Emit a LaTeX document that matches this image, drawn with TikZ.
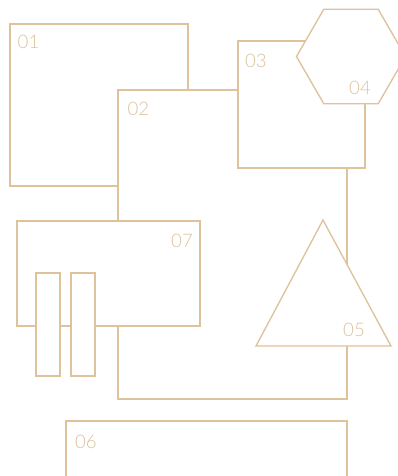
\documentclass[tikz,border=0pt]{standalone}
\usepackage{fontspec}
\newfontfamily\lblfont{Lato Light}
\usetikzlibrary{shapes.geometric}
\definecolor{tan}{HTML}{DDC29C}
\definecolor{tantext}{HTML}{DCC29E}
\begin{document}
\begin{tikzpicture}[x=0.75pt,y=-0.75pt,
  shp/.style={draw=tan,line width=1pt,fill=white,inner sep=0pt,outer sep=0pt},
  sz/.style 2 args={minimum width=#1*0.75pt,minimum height=#2*0.75pt},
  lbl/.style={text=tantext,font=\lblfont\fontsize{14pt}{15pt}\selectfont,inner sep=0pt},
  conn/.style={draw=tan,line width=1pt}]
\useasboundingbox (0,0) rectangle (398,476);
\clip (0,0) rectangle (398,476);
% boxes
\node[shp,sz={178}{162}] (n01) at (99,105) {};
\node[fill=white,inner sep=0pt,outer sep=0pt,sz={120}{131}] (n02) at (178,155.5) {};
\draw[conn] (n02.north east) -- (n02.north west) -- (n02.south west);
\node[shp,sz={127}{127}] (n03) at (301.5,104.5) {};
\node[shp,regular polygon,regular polygon sides=6,minimum size=109*0.75pt] (n04) at (351,56.5) {};
% triangle 05
\coordinate (t05top) at (323,220);
\coordinate (t05l) at (256,346);
\coordinate (t05r) at (391,346);
\coordinate (t05b) at (347,346);
\draw[conn] (n03.south -| t05b) -- (t05b);
\path[shp] (t05top) -- (t05l) -- (t05r) -- cycle;
% box 07 and bars
\node[shp,sz={183}{105}] (n07) at (108.5,273.5) {};
\coordinate (c07) at (118,326);
\draw[conn] (t05b) -- ++(0,53) -| (c07);
\node[shp,sz={24}{103}] (barA) at (48,324.5) {};
\node[shp,sz={24}{103}] (barB) at (83,324.5) {};
% box 06
\node[shp,sz={281}{100}] (n06) at (206.5,471) {};
% labels
\node[lbl] (l01) at (28.5,41.5) {01};
\node[lbl] (l02) at (138.5,109) {02};
\node[lbl] (l03) at (256,61) {03};
\node[lbl] (l04) at (360,88) {04};
\node[lbl] (l07) at (182,240.5) {07};
\node[lbl] (l05) at (354,330) {05};
\node[lbl] (l06) at (86,441.5) {06};
\end{tikzpicture}
\end{document}
